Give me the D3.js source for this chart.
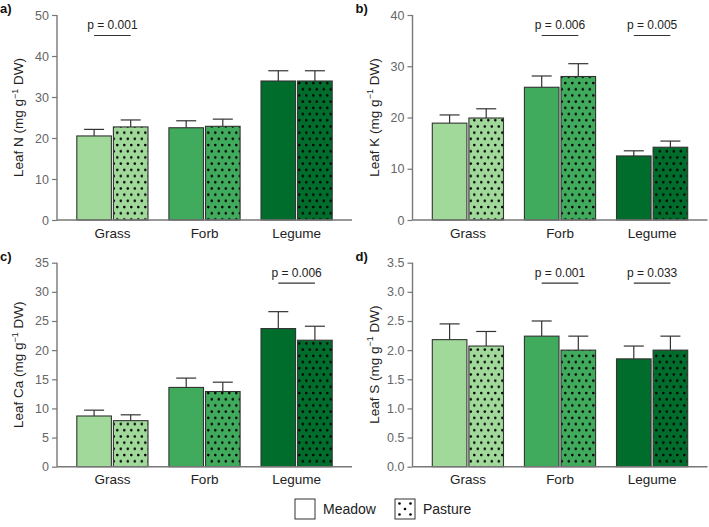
<!DOCTYPE html>
<html>
<head>
<meta charset="utf-8">
<script src="https://cdn.jsdelivr.net/npm/d3@7"></script>
<style>
  html, body { margin: 0; padding: 0; background: #fff; }
  svg { display: block; font-family: "Liberation Sans", Arial, sans-serif; }
</style>
</head>
<body>
<svg id="chart" width="709" height="527"></svg>
<script>
// ---------------- DATA ----------------
const categories = ["Grass", "Forb", "Legume"];
const treatments = ["Meadow", "Pasture"];
const categoryColors = ["#a1d99b", "#41ab5d", "#006d2c"];

// Panel a: Leaf N
const nMeadow = [20.5, 22.5, 33.9];
const nMeadowSE = [1.6, 1.7, 2.5];
const nPasture = [22.7, 22.85, 33.9];
const nPastureSE = [1.7, 1.75, 2.5];
const nTicks = [0, 10, 20, 30, 40, 50];
const nP = [{ cat: "Grass", label: "p = 0.001", level: 45 }];

// Panel b: Leaf K
const kMeadow = [18.9, 25.9, 12.5];
const kMeadowSE = [1.6, 2.2, 1.0];
const kPasture = [19.9, 28.0, 14.2];
const kPastureSE = [1.8, 2.5, 1.2];
const kTicks = [0, 10, 20, 30, 40];
const kP = [{ cat: "Forb", label: "p = 0.006", level: 36 }, { cat: "Legume", label: "p = 0.005", level: 36 }];

// Panel c: Leaf Ca
const caMeadow = [8.7, 13.6, 23.7];
const caMeadowSE = [1.0, 1.6, 2.9];
const caPasture = [7.9, 12.9, 21.7];
const caPastureSE = [1.0, 1.6, 2.4];
const caTicks = [0, 5, 10, 15, 20, 25, 30, 35];
const caP = [{ cat: "Legume", label: "p = 0.006", level: 31.5 }];

// Panel d: Leaf S
const sMeadow = [2.18, 2.24, 1.85];
const sMeadowSE = [0.27, 0.26, 0.22];
const sPasture = [2.07, 2.0, 2.0];
const sPastureSE = [0.25, 0.24, 0.24];
const sTicks = [0, 0.5, 1.0, 1.5, 2.0, 2.5, 3.0, 3.5];
const sP = [{ cat: "Forb", label: "p = 0.001", level: 3.15 }, { cat: "Legume", label: "p = 0.033", level: 3.15 }];

// ---------------- DRAW ----------------
const svg = d3.select("#chart");
const defs = svg.append("defs");
categoryColors.forEach((c, i) => {
  const p = defs.append("pattern").attr("id", "dots" + i)
    .attr("patternUnits", "userSpaceOnUse").attr("width", 7).attr("height", 12.4);
  p.append("rect").attr("width", 7).attr("height", 12.4).attr("fill", c);
  p.append("circle").attr("cx", 1.8).attr("cy", 2.5).attr("r", 1.3).attr("fill", "#000");
  p.append("circle").attr("cx", 5.3).attr("cy", 8.7).attr("r", 1.3).attr("fill", "#000");
});

const panels = [
  { tag: "a)", el: "N", ox: 0, top: 15, bottom: 220, meadow: nMeadow, mse: nMeadowSE, pasture: nPasture, pse: nPastureSE, ticks: nTicks, fmt: d3.format("d"), p: nP },
  { tag: "b)", el: "K", ox: 355.5, top: 15, bottom: 220, meadow: kMeadow, mse: kMeadowSE, pasture: kPasture, pse: kPastureSE, ticks: kTicks, fmt: d3.format("d"), p: kP },
  { tag: "c)", el: "Ca", ox: 0, top: 262.7, bottom: 466.7, meadow: caMeadow, mse: caMeadowSE, pasture: caPasture, pse: caPastureSE, ticks: caTicks, fmt: d3.format("d"), p: caP },
  { tag: "d)", el: "S", ox: 355.5, top: 262.7, bottom: 466.7, meadow: sMeadow, mse: sMeadowSE, pasture: sPasture, pse: sPastureSE, ticks: sTicks, fmt: d3.format(".1f"), p: sP }
];

const axisColor = "#777";
const tickTextColor = "#666";
const barStroke = "#333";

panels.forEach(P => {
  const axX = 57 + P.ox;
  const axEnd = 352 + P.ox;
  const g = svg.append("g");
  const yMax = P.ticks[P.ticks.length - 1];
  const y = d3.scaleLinear().domain([0, yMax]).range([P.bottom, P.top]);
  const x = d3.scaleBand().domain(categories).range([axX, axEnd]).paddingInner(0.227).paddingOuter(0.215);
  const xs = d3.scaleBand().domain(treatments).range([0, x.bandwidth()]).paddingInner(0.055);

  // panel tag
  g.append("text").attr("x", P.ox + 0).attr("y", P.top - 2).attr("font-weight", "bold")
    .attr("font-size", 13).attr("fill", "#111").text(P.tag);

  // bars
  categories.forEach((cat, i) => {
    const series = [
      { t: "Meadow", v: P.meadow[i], se: P.mse[i], fill: categoryColors[i] },
      { t: "Pasture", v: P.pasture[i], se: P.pse[i], fill: "url(#dots" + i + ")" }
    ];
    series.forEach(s => {
      const bx = x(cat) + xs(s.t);
      const bw = xs.bandwidth();
      const cx = bx + bw / 2;
      // error bar
      g.append("line").attr("x1", cx).attr("x2", cx).attr("y1", y(s.v)).attr("y2", y(s.v + s.se))
        .attr("stroke", barStroke).attr("stroke-width", 1.2);
      g.append("line").attr("x1", cx - 10).attr("x2", cx + 10).attr("y1", y(s.v + s.se)).attr("y2", y(s.v + s.se))
        .attr("stroke", barStroke).attr("stroke-width", 1.2);
      g.append("rect").attr("x", bx).attr("y", y(s.v)).attr("width", bw).attr("height", y(0) - y(s.v))
        .attr("fill", s.fill).attr("stroke", barStroke).attr("stroke-width", 1.1);
    });
  });

  // y axis
  const yAxis = d3.axisLeft(y).tickValues(P.ticks).tickFormat(P.fmt).tickSize(5).tickPadding(3);
  const ya = g.append("g").attr("transform", `translate(${axX},0)`).call(yAxis);
  ya.select(".domain").attr("stroke", axisColor).attr("stroke-width", 1.4).attr("d", `M0,${P.top}V${P.bottom}`);
  ya.selectAll(".tick line").attr("stroke", axisColor).attr("stroke-width", 1.2);
  ya.selectAll(".tick text").attr("fill", tickTextColor).attr("font-size", 12.5)
    .attr("font-family", "Liberation Sans, Arial, sans-serif");

  // x axis
  const xAxis = d3.axisBottom(x).tickSize(0).tickPadding(8);
  const xa = g.append("g").attr("transform", `translate(0,${P.bottom})`).call(xAxis);
  xa.select(".domain").attr("stroke", axisColor).attr("stroke-width", 1.4).attr("d", `M${axX},0H${axEnd}`);
  xa.selectAll(".tick text").attr("fill", "#222").attr("font-size", 13.5)
    .attr("font-family", "Liberation Sans, Arial, sans-serif");

  // y title
  const t = g.append("text")
    .attr("transform", `translate(${axX - 34},${(P.top + P.bottom) / 2}) rotate(-90)`)
    .attr("text-anchor", "middle").attr("font-size", 13.5).attr("fill", "#222");
  t.append("tspan").text(`Leaf ${P.el} (mg g`);
  t.append("tspan").attr("font-size", 9).attr("dy", -5.5).text("\u22121");
  t.append("tspan").attr("dy", 5.5).text(" DW)");

  // p-value annotations
  P.p.forEach(a => {
    const x1 = x(a.cat) + xs("Meadow") + xs.bandwidth() / 2;
    const x2 = x(a.cat) + xs("Pasture") + xs.bandwidth() / 2;
    g.append("line").attr("x1", x1).attr("x2", x2).attr("y1", y(a.level)).attr("y2", y(a.level))
      .attr("stroke", "#333").attr("stroke-width", 1.1);
    g.append("text").attr("x", (x1 + x2) / 2).attr("y", y(a.level) - 6.5).attr("text-anchor", "middle")
      .attr("font-size", 12).attr("fill", "#222").text(a.label);
  });
});

// legend
const lg = svg.append("g");
const legendItems = [
  { label: "Meadow", x: 295, fill: "#fff", dots: false },
  { label: "Pasture", x: 395, fill: "#fff", dots: true }
];
legendItems.forEach(it => {
  lg.append("rect").attr("x", it.x).attr("y", 499).attr("width", 20).attr("height", 20)
    .attr("fill", it.fill).attr("stroke", "#333").attr("stroke-width", 1);
  if (it.dots) {
    [[4.5, 4.5], [15.5, 4.5], [10, 10], [4.5, 15.5], [15.5, 15.5]].forEach(([dx, dy]) => {
      lg.append("circle").attr("cx", it.x + dx).attr("cy", 499 + dy).attr("r", 1.3).attr("fill", "#000");
    });
  }
  lg.append("text").attr("x", it.x + 28).attr("y", 514).attr("font-size", 14).attr("fill", "#222").text(it.label);
});
</script>
</body>
</html>
